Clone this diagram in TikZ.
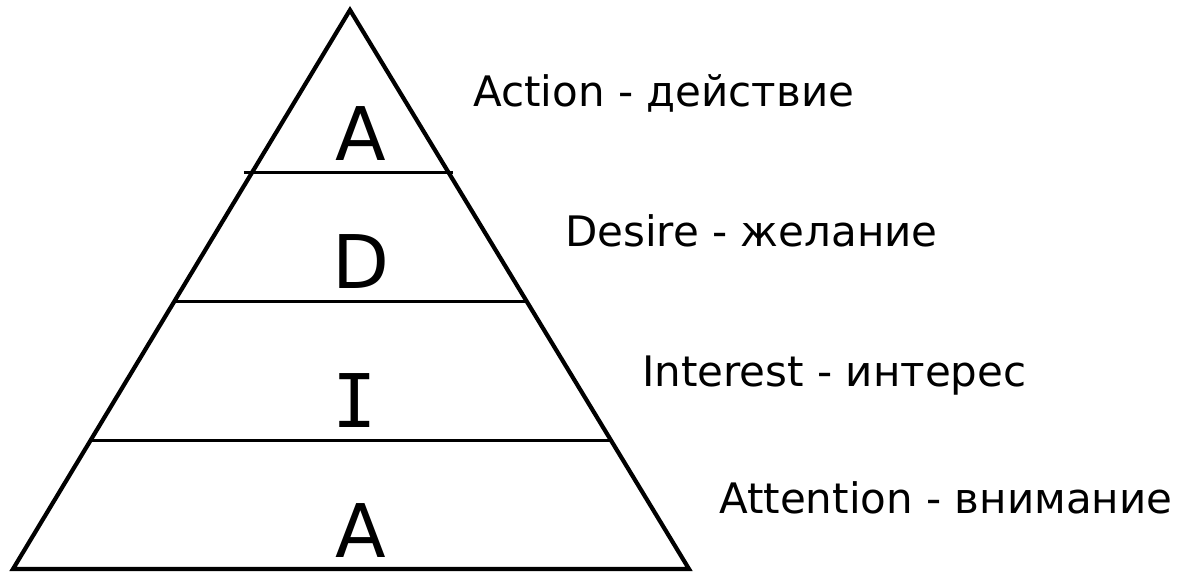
\documentclass[tikz,border=0pt]{standalone}
\usepackage{fontspec}
\setmainfont{DejaVu Sans}
\newfontfamily\serifI{DejaVu Sans Mono}
\usepackage{xcolor}
\usetikzlibrary{positioning}

\begin{document}
\begin{tikzpicture}[x=1pt, y=-1pt,
    letter/.style={anchor=base, inner sep=0, font=\fontsize{74}{80}\selectfont},
    stage/.style={anchor=base west, inner sep=0, font=\fontsize{42}{48}\selectfont},
    side/.style={line width=4.2pt, line join=miter},
    level/.style={line width=2.6pt}]

\useasboundingbox (0,0) rectangle (1183,572);

\coordinate (apex) at (350,10);
\coordinate (bl) at (13,569);
\coordinate (br) at (689,569);

% outline
\draw[side] (apex) -- (bl) -- (br) -- cycle;

% level lines
\path (apex) -- (bl) coordinate[pos=0.291] (l1) coordinate[pos=0.521] (l2) coordinate[pos=0.770] (l3);
\path (apex) -- (br) coordinate[pos=0.291] (r1) coordinate[pos=0.521] (r2) coordinate[pos=0.770] (r3);
\draw[level] ([xshift=-8pt]l1) -- ([xshift=4pt]r1);
\draw[level] (l2) -- (r2);
\draw[level] (l3) -- (r3);

% letters
\node[letter] (act) at (361,161) {A};
\node[letter] (des) at (361,288) {D};
\node[letter] (int) at (355,427) {\serifI I};
\node[letter] (att) at (361,557) {A};

% stages
\node[stage] (action) at (473,107) {Action - действие};
\node[stage] (desire) at (565,246) {Desire - желание};
\node[stage] (interest) at (642,386) {Interest - интерес};
\node[stage] (attention) at (719,513) {Attention - внимание};

\end{tikzpicture}
\end{document}
